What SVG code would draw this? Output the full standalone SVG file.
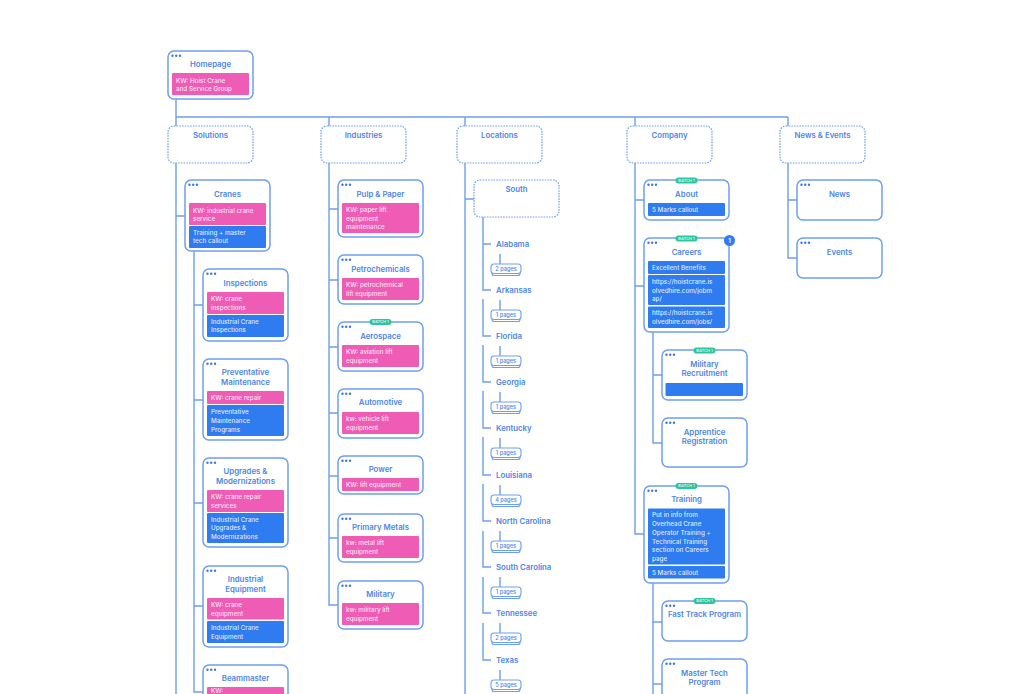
<svg xmlns="http://www.w3.org/2000/svg" xmlns:xlink="http://www.w3.org/1999/xlink" width="1024" height="694" viewBox="0 0 1024 694">
<style>
text{font-family:Inter,"Liberation Sans",sans-serif}
.bg{fill:#fff}
.n{fill:#fff;stroke:#6d9ff0;stroke-width:1.5}
.d{fill:#fff;stroke:#6d9ff0;stroke-width:1.2;stroke-dasharray:1.6 1.1}
.t{font-size:7.8px;font-weight:600;fill:#4d86e6;text-anchor:middle}
.s{font-size:7.8px;font-weight:600;fill:#4d86e6}
.p{fill:#ee5cb6}
.b{fill:#2f7cf0}
.w{font-size:6.3px;font-weight:500;fill:#fff;fill-opacity:.85}
.c{fill:none;stroke:#6d9ff0;stroke-width:1.4}
.g{fill:#2ec4a0}
.gt{font-size:4px;font-weight:600;fill:#fff;fill-opacity:.8;text-anchor:middle}
.pg{font-size:5.6px;font-weight:500;fill:#4d86e6;text-anchor:middle}
.pb{fill:#fff;stroke:#6d9ff0;stroke-width:1.1}
.dot{fill:#3f78dc}
</style>
<defs>
<g id="dots"><circle class="dot" cx="4.5" cy="4.7" r="1.2"/><circle class="dot" cx="8.2" cy="4.7" r="1.2"/><circle class="dot" cx="12" cy="4.7" r="1.2"/></g>
<g id="batch"><rect class="g" x="-11" y="-3" width="22" height="6" rx="3"/><text class="gt" y="1.4">BATCH 1</text></g>
<g id="pages"><path class="c" d="M1 9v.5a2 2 0 0 0 2 2h24a2 2 0 0 0 2-2V9" style="stroke-width:1.100"/><rect class="pb" x="0" y="0" width="30" height="9.500" rx="3"/></g>
</defs>
<rect class="bg" width="1024" height="694"/>
<g id="connectors">
<path class="c" d="M176 99V694M176 117H788M329 117V126M465 117V126M635 117V126M788 117V126"/>
<path class="c" d="M176 216H185M194 251V692H203M194 305H203M194 400H203M194 503H203M194 606H203"/>
<path class="c" d="M329 163V605H338M329 209H338M329 280H338M329 347H338M329 413H338M329 476H338M329 538H338"/>
<path class="c" d="M465 163V694M465 199H474M483 217V290H491M483 244H491M483 299V336H491M483 345V382H491M483 391V428H491M483 437V475H491M483 484V521H491M483 531V567H491M483 577V613H491M483 623V660H491"/>
<path class="c" d="M500 254V264M500 300V310M500 346V356M500 392V402M500 438V448M500 485V495M500 531V541M500 577V587M500 623V633M500 670V680"/>
<path class="c" d="M635 163V534H644M635 200H644M635 286H644M653 332V443H662M653 375H662M653 583V694M653 622H662M653 684H662"/>
<path class="c" d="M788 163V258H797M788 200H797"/>
</g>
<g id="homepage"><rect class="n" x="168" y="51" width="85" height="48" rx="6"/><use xlink:href="#dots" href="#dots" x="168" y="51"/><text class="t" x="210.500" y="67">Homepage</text><rect class="p" x="172" y="73" width="77" height="22" rx="1"/><text class="w" x="176" y="82.500">KW: Hoist Crane</text><text class="w" x="176" y="91">and Service Group</text></g>
<g id="solutions"><rect class="d" x="168" y="126" width="85" height="37" rx="6"/><text class="t" x="210.500" y="138">Solutions</text></g>
<g id="industries"><rect class="d" x="321" y="126" width="85" height="37" rx="6"/><text class="t" x="363.500" y="138">Industries</text></g>
<g id="locations"><rect class="d" x="457" y="126" width="85" height="37" rx="6"/><text class="t" x="499.500" y="138">Locations</text></g>
<g id="company"><rect class="d" x="627" y="126" width="85" height="37" rx="6"/><text class="t" x="669.500" y="138">Company</text></g>
<g id="news-events"><rect class="d" x="780" y="126" width="85" height="37" rx="6"/><text class="t" x="822.500" y="138">News &amp; Events</text></g>

<g id="cranes"><rect class="n" x="185" y="180" width="85" height="71" rx="6"/><use xlink:href="#dots" href="#dots" x="185" y="180"/><text class="t" x="227.500" y="196.500">Cranes</text><rect class="p" x="189" y="203" width="77" height="22" rx="1"/><text class="w" x="193" y="212.500">KW: industrial crane</text><text class="w" x="193" y="221">service</text><rect class="b" x="189" y="226" width="77" height="22" rx="1"/><text class="w" x="193" y="234.500">Training + master</text><text class="w" x="193" y="243">tech callout</text></g>
<g id="inspections"><rect class="n" x="203" y="269" width="85" height="72" rx="6"/><use xlink:href="#dots" href="#dots" x="203" y="269"/><text class="t" x="245.500" y="286">Inspections</text><rect class="p" x="207" y="292" width="77" height="22" rx="1"/><text class="w" x="211" y="301">KW: crane</text><text class="w" x="211" y="309.500">inspections</text><rect class="b" x="207" y="315" width="77" height="22" rx="1"/><text class="w" x="211" y="323.500">Industrial Crane</text><text class="w" x="211" y="332">Inspections</text></g>
<g id="preventative"><rect class="n" x="203" y="359" width="85" height="81" rx="6"/><use xlink:href="#dots" href="#dots" x="203" y="359"/><text class="t" x="245.500" y="375">Preventative</text><text class="t" x="245.500" y="385">Maintenance</text><rect class="p" x="207" y="391" width="77" height="13" rx="1"/><text class="w" x="211" y="400">KW: crane repair</text><rect class="b" x="207" y="405" width="77" height="31" rx="1"/><text class="w" x="211" y="414">Preventative</text><text class="w" x="211" y="422.500">Maintenance</text><text class="w" x="211" y="431.500">Programs</text></g>
<g id="upgrades"><rect class="n" x="203" y="458" width="85" height="89" rx="6"/><use xlink:href="#dots" href="#dots" x="203" y="458"/><text class="t" x="245.500" y="474">Upgrades &amp;</text><text class="t" x="245.500" y="483.500">Modernizations</text><rect class="p" x="207" y="490" width="77" height="22" rx="1"/><text class="w" x="211" y="499">KW: crane repair</text><text class="w" x="211" y="508">services</text><rect class="b" x="207" y="513" width="77" height="30" rx="1"/><text class="w" x="211" y="522">Industrial Crane</text><text class="w" x="211" y="530">Upgrades &amp;</text><text class="w" x="211" y="539">Modernizations</text></g>
<g id="industrial-equipment"><rect class="n" x="203" y="566" width="85" height="81" rx="6"/><use xlink:href="#dots" href="#dots" x="203" y="566"/><text class="t" x="245.500" y="582">Industrial</text><text class="t" x="245.500" y="591.500">Equipment</text><rect class="p" x="207" y="598" width="77" height="21.500" rx="1"/><text class="w" x="211" y="607">KW: crane</text><text class="w" x="211" y="615.500">equipment</text><rect class="b" x="207" y="621" width="77" height="22" rx="1"/><text class="w" x="211" y="629.500">Industrial Crane</text><text class="w" x="211" y="638.500">Equipment</text></g>
<g id="beammaster"><rect class="n" x="203" y="665" width="85" height="60" rx="6"/><use xlink:href="#dots" href="#dots" x="203" y="665"/><text class="t" x="245.500" y="681">Beammaster</text><rect class="p" x="207" y="687" width="77" height="30" rx="1"/><text class="w" x="211" y="693">KW:</text></g>

<g id="pulp-paper"><rect class="n" x="338" y="180" width="85" height="57" rx="6"/><use xlink:href="#dots" href="#dots" x="338" y="180"/><text class="t" x="380.500" y="196.500">Pulp &amp; Paper</text><rect class="p" x="342" y="203" width="77" height="30" rx="1"/><text class="w" x="346" y="212">KW: paper lift</text><text class="w" x="346" y="220.500">equipment</text><text class="w" x="346" y="229">maintenance</text></g>
<g id="petrochemicals"><rect class="n" x="338" y="255" width="85" height="49" rx="6"/><use xlink:href="#dots" href="#dots" x="338" y="255"/><text class="t" x="380.500" y="271.500">Petrochemicals</text><rect class="p" x="342" y="278" width="77" height="22" rx="1"/><text class="w" x="346" y="287">KW: petrochemical</text><text class="w" x="346" y="296">lift equipment</text></g>
<g id="aerospace"><rect class="n" x="338" y="322" width="85" height="49" rx="6"/><use xlink:href="#batch" href="#batch" x="380.500" y="322"/><use xlink:href="#dots" href="#dots" x="338" y="322"/><text class="t" x="380.500" y="338.500">Aerospace</text><rect class="p" x="342" y="345" width="77" height="22" rx="1"/><text class="w" x="346" y="353.500">KW: aviation lift</text><text class="w" x="346" y="362.500">equipment</text></g>
<g id="automotive"><rect class="n" x="338" y="389" width="85" height="49" rx="6"/><use xlink:href="#dots" href="#dots" x="338" y="389"/><text class="t" x="380.500" y="405">Automotive</text><rect class="p" x="342" y="412" width="77" height="22" rx="1"/><text class="w" x="346" y="420.500">kw: vehicle lift</text><text class="w" x="346" y="429.500">equipment</text></g>
<g id="power"><rect class="n" x="338" y="456" width="85" height="38" rx="6"/><use xlink:href="#dots" href="#dots" x="338" y="456"/><text class="t" x="380.500" y="471.500">Power</text><rect class="p" x="342" y="478" width="77" height="13" rx="1"/><text class="w" x="346" y="487">KW: lift equipment</text></g>
<g id="primary-metals"><rect class="n" x="338" y="514" width="85" height="48" rx="6"/><use xlink:href="#dots" href="#dots" x="338" y="514"/><text class="t" x="380.500" y="529.500">Primary Metals</text><rect class="p" x="342" y="536" width="77" height="22" rx="1"/><text class="w" x="346" y="545">kw: metal lift</text><text class="w" x="346" y="554">equipment</text></g>
<g id="military"><rect class="n" x="338" y="581" width="85" height="48" rx="6"/><use xlink:href="#dots" href="#dots" x="338" y="581"/><text class="t" x="380.500" y="596.500">Military</text><rect class="p" x="342" y="603" width="77" height="22" rx="1"/><text class="w" x="346" y="612">kw: military lift</text><text class="w" x="346" y="620.500">equipment</text></g>

<g id="south"><rect class="d" x="474" y="180" width="85" height="37" rx="6"/><text class="t" x="516.500" y="192">South</text></g>
<g id="alabama"><text class="s" x="496" y="247">Alabama</text><use xlink:href="#pages" href="#pages" x="491" y="264"/><text class="pg" x="506" y="271">2 pages</text></g>
<g id="arkansas"><text class="s" x="496" y="293">Arkansas</text><use xlink:href="#pages" href="#pages" x="491" y="310"/><text class="pg" x="506" y="317">1 pages</text></g>
<g id="florida"><text class="s" x="496" y="339">Florida</text><use xlink:href="#pages" href="#pages" x="491" y="356"/><text class="pg" x="506" y="363">1 pages</text></g>
<g id="georgia"><text class="s" x="496" y="385">Georgia</text><use xlink:href="#pages" href="#pages" x="491" y="402"/><text class="pg" x="506" y="409">1 pages</text></g>
<g id="kentucky"><text class="s" x="496" y="431">Kentucky</text><use xlink:href="#pages" href="#pages" x="491" y="448"/><text class="pg" x="506" y="455">1 pages</text></g>
<g id="louisiana"><text class="s" x="496" y="478">Louisiana</text><use xlink:href="#pages" href="#pages" x="491" y="495"/><text class="pg" x="506" y="502">4 pages</text></g>
<g id="north-carolina"><text class="s" x="496" y="524">North Carolina</text><use xlink:href="#pages" href="#pages" x="491" y="541"/><text class="pg" x="506" y="548">1 pages</text></g>
<g id="south-carolina"><text class="s" x="496" y="570">South Carolina</text><use xlink:href="#pages" href="#pages" x="491" y="587"/><text class="pg" x="506" y="594">1 pages</text></g>
<g id="tennessee"><text class="s" x="496" y="616">Tennessee</text><use xlink:href="#pages" href="#pages" x="491" y="633"/><text class="pg" x="506" y="640">2 pages</text></g>
<g id="texas"><text class="s" x="496" y="663">Texas</text><use xlink:href="#pages" href="#pages" x="491" y="680"/><text class="pg" x="506" y="687">5 pages</text></g>

<g id="about"><rect class="n" x="644" y="180" width="85" height="40" rx="6"/><use xlink:href="#batch" href="#batch" x="686.500" y="180.500"/><use xlink:href="#dots" href="#dots" x="644" y="180"/><text class="t" x="686.500" y="196.500">About</text><rect class="b" x="648" y="203" width="77" height="13" rx="1"/><text class="w" x="652" y="212">5 Marks callout</text></g>
<g id="careers"><rect class="n" x="644" y="238" width="85" height="94" rx="6"/><use xlink:href="#batch" href="#batch" x="686.500" y="238.500"/><use xlink:href="#dots" href="#dots" x="644" y="238"/><text class="t" x="686.500" y="254.500">Careers</text><rect class="b" x="648" y="261" width="77" height="13" rx="1"/><text class="w" x="652" y="269.500">Excellent Benefits</text><rect class="b" x="648" y="275" width="77" height="30" rx="1"/><text class="w" x="652" y="284">https://hoistcrane.is</text><text class="w" x="652" y="292.500">olvedhire.com/jobm</text><text class="w" x="652" y="301">ap/</text><rect class="b" x="648" y="306.500" width="77" height="21.500" rx="1"/><text class="w" x="652" y="315">https://hoistcrane.is</text><text class="w" x="652" y="324">olvedhire.com/jobs/</text><circle class="b" cx="729.500" cy="240.500" r="5.500"/><text x="729.500" y="243" style="font-size:6px;font-weight:600;fill:#fff;text-anchor:middle">1</text></g>
<g id="military-recruitment"><rect class="n" x="662" y="350" width="85" height="50" rx="6"/><use xlink:href="#batch" href="#batch" x="704.500" y="350.500"/><use xlink:href="#dots" href="#dots" x="662" y="350"/><text class="t" x="704.500" y="366.500">Military</text><text class="t" x="704.500" y="375.500">Recruitment</text><rect class="b" x="665.500" y="383" width="77.500" height="13" rx="1"/></g>
<g id="apprentice"><rect class="n" x="662" y="418" width="85" height="49" rx="6"/><use xlink:href="#dots" href="#dots" x="662" y="418"/><text class="t" x="704.500" y="434.500">Apprentice</text><text class="t" x="704.500" y="444">Registration</text></g>
<g id="training"><rect class="n" x="644" y="486" width="85" height="97" rx="6"/><use xlink:href="#batch" href="#batch" x="686.500" y="486"/><use xlink:href="#dots" href="#dots" x="644" y="486"/><text class="t" x="686.500" y="501.500">Training</text><rect class="b" x="648" y="508.500" width="77" height="56" rx="1"/><text class="w" x="652" y="517">Put in info from</text><text class="w" x="652" y="526">Overhead Crane</text><text class="w" x="652" y="535">Operator Training +</text><text class="w" x="652" y="543.500">Technical Training</text><text class="w" x="652" y="552">section on Careers</text><text class="w" x="652" y="561">page</text><rect class="b" x="648" y="566" width="77" height="12.500" rx="1"/><text class="w" x="652" y="574.500">5 Marks callout</text></g>
<g id="fast-track"><rect class="n" x="662" y="601" width="85" height="40" rx="6"/><use xlink:href="#batch" href="#batch" x="704.500" y="601"/><use xlink:href="#dots" href="#dots" x="662" y="601"/><text class="t" x="704.500" y="617">Fast Track Program</text></g>
<g id="master-tech"><rect class="n" x="662" y="659" width="85" height="60" rx="6"/><use xlink:href="#dots" href="#dots" x="662" y="659"/><text class="t" x="704.500" y="675.500">Master Tech</text><text class="t" x="704.500" y="685">Program</text></g>

<g id="news"><rect class="n" x="797" y="180" width="85" height="40" rx="6"/><use xlink:href="#dots" href="#dots" x="797" y="180"/><text class="t" x="839.500" y="196.500">News</text></g>
<g id="events"><rect class="n" x="797" y="238" width="85" height="40" rx="6"/><use xlink:href="#dots" href="#dots" x="797" y="238"/><text class="t" x="839.500" y="254.500">Events</text></g>
</svg>
